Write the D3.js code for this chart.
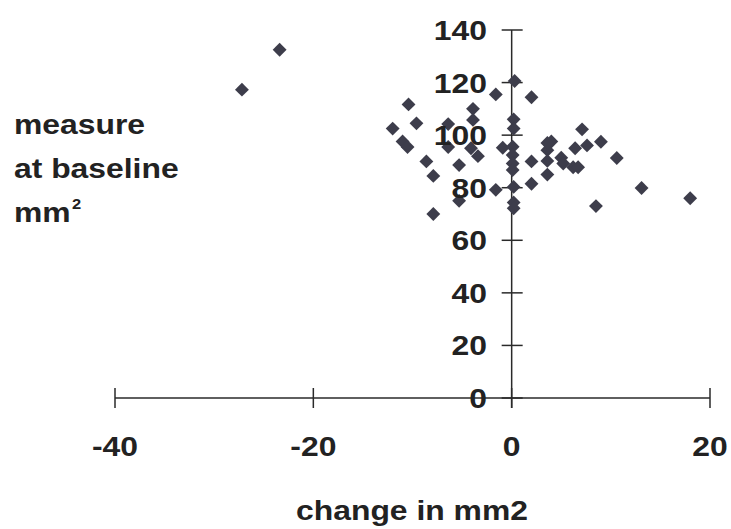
<!DOCTYPE html>
<html>
<head>
<meta charset="utf-8">
<script src="https://cdn.jsdelivr.net/npm/d3@7"></script>
<style>
  html, body { margin: 0; padding: 0; background: #fff; }
  svg text { font-family: "Liberation Sans", Arial, sans-serif; font-weight: bold; fill: #222; }
</style>
</head>
<body>
<div id="chart"></div>
<script>
// change in mm2 (x) vs measure at baseline (y)
const changeVals = [
  -27.2, -23.4,
  -12.0, -10.4, -9.6, -11.0, -10.5, -8.6, -7.9, -7.9,
  -6.4, -6.4, -5.3, -5.3, -3.9, -3.9, -4.1, -3.4,
  -1.6, -0.9, -1.6,
  0.3, 0.2, 0.2, 0.1, 0.1, 0.1, 0.1, 0.2, 0.2, 0.2,
  2.0, 2.0, 2.0,
  4.0, 3.6, 3.6, 3.6, 3.6,
  5.0, 5.2, 6.2, 6.7, 6.4, 7.1, 7.6, 9.0, 10.6, 8.5, 13.1, 18.0
];
const baselineVals = [
  117.3, 132.5,
  102.5, 111.7, 104.5, 97.6, 95.5, 90.0, 84.5, 70.0,
  104.2, 95.5, 88.6, 75.0, 110.0, 105.8, 95.0, 92.0,
  115.5, 95.2, 79.2,
  120.6, 106.0, 102.5, 95.6, 92.4, 89.2, 86.7, 80.3, 74.4, 72.2,
  114.4, 90.0, 81.5,
  97.6, 94.3, 90.2, 85.0, 97.0,
  91.4, 89.2, 87.8, 87.8, 95.0, 102.2, 96.1, 97.5, 91.3, 73.0, 79.9, 76.0
];
const xTicks = [-40, -20, 0, 20];
const yTicks = [0, 20, 40, 60, 80, 100, 120, 140];
const yTitleLines = ["measure", "at baseline", "mm"];

const W = 731, H = 529;
const FS = 27, SX = 1.18;   // the scanned figure's lettering is a little wide
const INK = "#2a2a2a";

const svg = d3.select("#chart").append("svg")
  .attr("width", W).attr("height", H).attr("viewBox", `0 0 ${W} ${H}`);

const x = d3.scaleLinear().domain([-40, 20]).range([115, 710]);
const y = d3.scaleLinear().domain([0, 140]).range([398, 30]);

function label(xp, yp, txt, anchor, size) {
  return svg.append("text")
    .attr("transform", `translate(${xp},${yp}) scale(${SX},1)`)
    .attr("text-anchor", anchor)
    .attr("font-size", size || FS)
    .text(txt);
}

// axes cross at the origin
const axes = svg.append("g").attr("stroke", INK).attr("stroke-width", 1.5).attr("fill", "none");
axes.append("line")
  .attr("x1", x(-40)).attr("x2", x(20)).attr("y1", y(0)).attr("y2", y(0));
axes.append("line")
  .attr("x1", x(0)).attr("x2", x(0)).attr("y1", y(140)).attr("y2", y(0) + 10);

xTicks.forEach(t => {
  axes.append("line")
    .attr("x1", x(t)).attr("x2", x(t)).attr("y1", y(0) - 10).attr("y2", y(0) + 10);
});
yTicks.forEach(t => {
  axes.append("line")
    .attr("x1", x(0) - 10).attr("x2", x(0) + 11).attr("y1", y(t)).attr("y2", y(t));
});

// points
svg.append("g").selectAll("path").data(changeVals).join("path")
  .attr("d", d3.symbol(d3.symbolSquare, 96))
  .attr("transform", (d, i) => `translate(${x(d)},${y(baselineVals[i])}) rotate(45)`)
  .attr("fill", "#3d3d4b");

// tick labels
yTicks.forEach(t => label(487, y(t) + 10, t, "end"));
xTicks.forEach(t => label(x(t), 456, t, "middle"));

// titles
label(412, 520, "change in mm2", "middle");
yTitleLines.forEach((s, i) => label(14, 134 + i * 44, s, "start"));
label(72, 209, "2", "start", 14);
</script>
</body>
</html>
